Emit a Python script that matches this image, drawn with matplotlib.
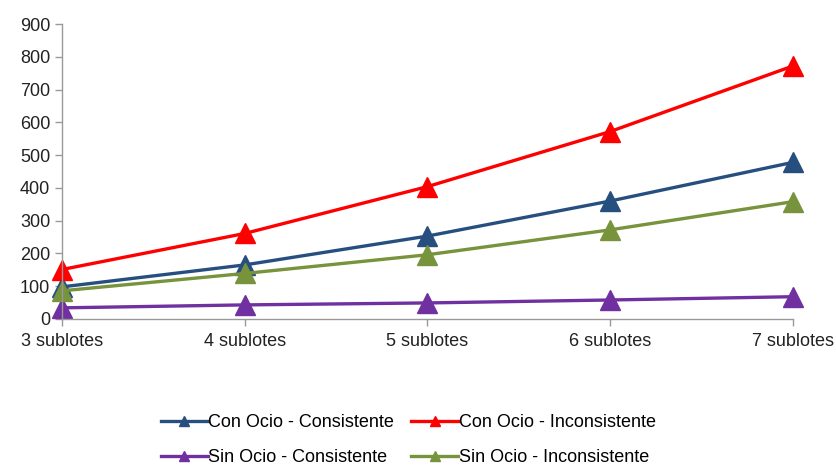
from matplotlib import pyplot as plt
from matplotlib.lines import Line2D
import numpy as np

categories = ['3 sublotes', '4 sublotes', '5 sublotes', '6 sublotes', '7 sublotes']
con_consistente = [98, 165, 253, 360, 478]
con_inconsistente = [151, 261, 404, 572, 772]
sin_consistente = [34, 43, 49, 58, 68]
sin_inconsistente = [86, 139, 196, 272, 358]

labels = ['Con Ocio - Consistente', 'Con Ocio - Inconsistente',
          'Sin Ocio - Consistente', 'Sin Ocio - Inconsistente']
colors = ['#264F80', '#FF0000', '#7030A0', '#77933C']
series = [con_consistente, con_inconsistente, sin_consistente, sin_inconsistente]

plt.rcParams['font.family'] = ['Liberation Sans', 'DejaVu Sans']

fig = plt.figure(figsize=(8.37, 4.65), dpi=100)
ax = fig.add_axes([0.074, 0.314, 0.873, 0.634])

x = np.arange(len(categories))
handles = []
for vals, lab, col in zip(series, labels, colors):
    ax.plot(x, vals, color=col, lw=2.4, marker='^', markersize=14, clip_on=False)
    handles.append(Line2D([0], [0], color=col, lw=2.4, marker='^', markersize=7, label=lab))

ax.set_xlim(0, 4)
ax.set_ylim(0, 900)
ax.set_yticks(range(0, 901, 100))
ax.set_xticks(x)
ax.set_xticklabels(categories)
ax.tick_params(labelsize=13, colors='#222222', length=5, color='#999999', width=1)
ax.tick_params(axis='x', pad=5)
for s in ['top', 'right']:
    ax.spines[s].set_visible(False)
for s in ['left', 'bottom']:
    ax.spines[s].set_color('#999999')
    ax.spines[s].set_linewidth(1)

order = [0, 2, 1, 3]
fig.legend([handles[i] for i in order], [labels[i] for i in order],
           ncol=2, loc='center', bbox_to_anchor=(0.488, 0.053),
           frameon=False, handlelength=2.6, handletextpad=0.05,
           columnspacing=0.95, labelspacing=1.0,
           prop={'family': ['Liberation Sans'], 'size': 13})

plt.savefig('out.png', dpi=100)
